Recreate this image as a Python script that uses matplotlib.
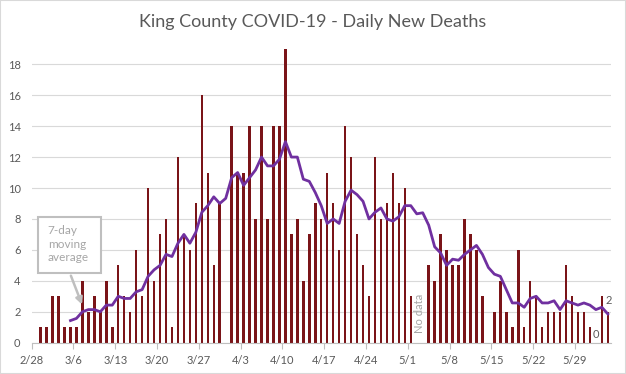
import matplotlib
matplotlib.use("Agg")
import matplotlib.pyplot as plt
from matplotlib.patches import Rectangle

plt.rcParams["font.family"] = ["Lato", "DejaVu Sans"]

# one entry per day, day 0 = 2/28/2020 through 6/3; None = no report that day
deaths = [0, 1, 1, 3, 3, 1, 1, 1, 4, 2, 3, 2, 4, 1, 5, 3, 2, 6, 3, 10,
          4, 7, 8, 1, 12, 7, 6, 9, 16, 11, 5, 9, None, 14, 11, 11, 14, 8, 14, 8,
          14, 14, 19, 7, 8, 4, 7, 9, 8, 11, 9, 6, 14, 12, 7, 5, 3, 12, 8, 9,
          11, 9, 10, 3, None, None, 5, 4, 7, 6, 5, 5, 8, 7, 6, 3, 0, 2, 4, 2,
          1, 6, 1, 4, 3, 1, 2, 2, 2, 5, 3, 2, 2, 1, 0, 3, 2]

# 7-day moving average (starts on day 6)
moving_avg = [None] * 6 + [
    1.43, 1.57, 2.00, 2.14, 2.14, 2.00, 2.43, 2.43, 3.00, 2.86,
    2.86, 3.29, 3.43, 4.29, 4.71, 5.00, 5.71, 5.57, 6.43, 7.00,
    6.43, 7.14, 8.43, 8.86, 9.43, 9.00, 9.33, 10.67, 11.00, 10.17,
    10.67, 11.17, 12.00, 11.43, 11.43, 11.86, 13.00, 12.00, 12.00, 10.57,
    10.43, 9.71, 8.86, 7.71, 8.00, 7.71, 9.14, 9.86, 9.57, 9.14,
    8.00, 8.43, 8.71, 8.00, 7.86, 8.14, 8.86, 8.86, 8.33, 8.40,
    7.60, 6.20, 5.80, 5.00, 5.40, 5.33, 5.71, 6.00, 6.29, 5.71,
    4.86, 4.43, 4.29, 3.43, 2.57, 2.57, 2.29, 2.86, 3.00, 2.57,
    2.57, 2.71, 2.14, 2.71, 2.57, 2.43, 2.57, 2.43, 2.14, 2.29, 1.86]

tick_labels = ["2/28", "3/6", "3/13", "3/20", "3/27", "4/3", "4/10",
               "4/17", "4/24", "5/1", "5/8", "5/15", "5/22", "5/29"]

BAR = "#7A1418"
LINE = "#7030A0"
TXT = "#595959"
GRID = "#D9D9D9"

days = list(range(len(deaths)))
bar_x = [d for d, v in zip(days, deaths) if v is not None]
bar_h = [v for v in deaths if v is not None]
avg_x = [d for d, v in zip(days, moving_avg) if v is not None]
avg_y = [v for v in moving_avg if v is not None]

fig = plt.figure(figsize=(6.26, 3.74), dpi=100)
fig.patches.append(Rectangle((0, 0), 1, 1, transform=fig.transFigure,
                             fill=False, ec=GRID, lw=1.5))
ax = fig.add_axes([0.0506, 0.0837, 0.9251, 0.7941])

ax.bar(bar_x, bar_h, width=0.42, color=BAR, zorder=2)
ax.plot(avg_x, avg_y, color=LINE, lw=2, zorder=3)

ax.set_xlim(-0.5, len(deaths) - 0.5)
ax.set_ylim(0, 19.2)
ax.set_yticks(range(0, 19, 2))
ax.set_xticks([i * 7 - 0.5 for i in range(len(tick_labels))])
ax.set_xticklabels(tick_labels)
ax.grid(axis="y", color=GRID, lw=0.8, zorder=0)
ax.set_axisbelow(True)
for s in ["top", "right", "left"]:
    ax.spines[s].set_visible(False)
ax.spines["bottom"].set_color("#BFBFBF")
ax.tick_params(axis="y", length=0, pad=8, labelsize=8, labelcolor=TXT)
ax.tick_params(axis="x", length=4, color="#BFBFBF", pad=5, labelsize=8,
               labelcolor=TXT)

fig.text(0.5, 0.942, "King County COVID-19 - Daily New Deaths", ha="center",
         va="center", fontsize=13, color=TXT)

# annotations
ax.text(64.4, 1.9, "No data", rotation=90, ha="center", va="center",
        fontsize=8, color="#A6A6A6")
ax.text(94, 0.55, "0", ha="center", va="center", fontsize=8, color=TXT)
ax.text(96.2, 2.73, "2", ha="center", va="center", fontsize=8, color=TXT)

ax.add_patch(Rectangle((0.6, 4.52), 10.5, 3.59, fc="white", ec="#BFBFBF",
                       lw=1.5, zorder=4))
ax.text(2.2, 6.38, "7-day\nmoving\naverage", ha="left", va="center",
        fontsize=8.5, color="#A6A6A6", linespacing=1.3, zorder=5)
ax.annotate("", xy=(8.1, 2.3), xytext=(5.9, 4.5),
            arrowprops=dict(arrowstyle="-|>", color="#BFBFBF", lw=1.8,
                            mutation_scale=10), zorder=5)

fig.savefig("out.png", dpi=100)
